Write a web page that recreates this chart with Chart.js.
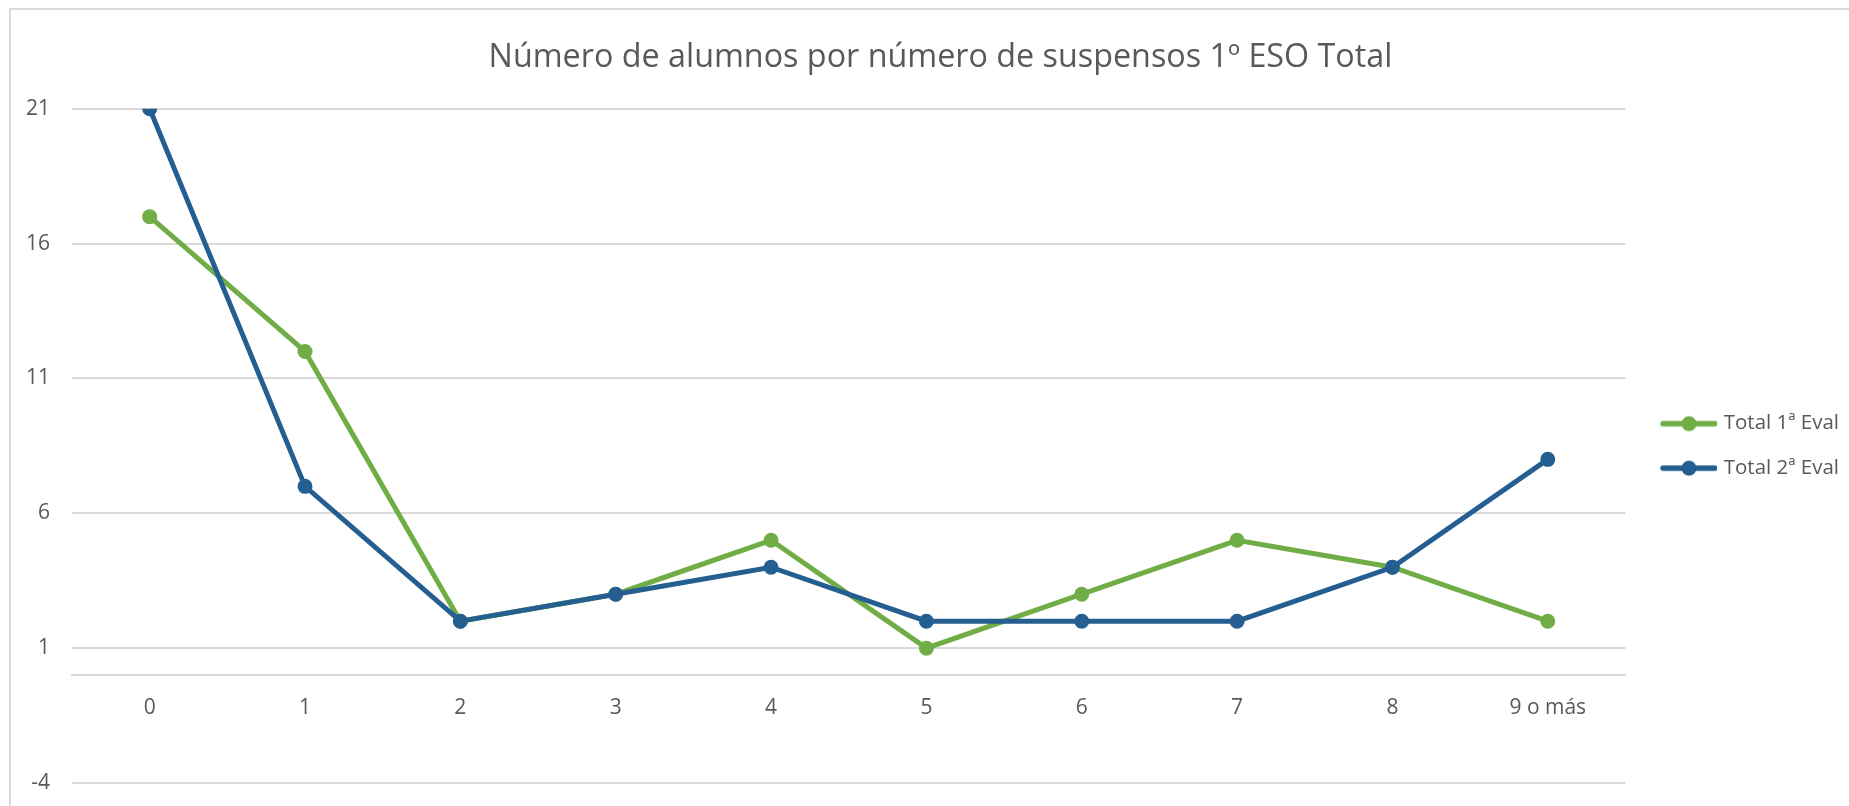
<!DOCTYPE html>
<html>
<head>
<meta charset="utf-8">
<script src="https://cdn.jsdelivr.net/npm/chart.js"></script>
<style>
  body { margin: 0; background: #fff; overflow: hidden; }
  #frame { position: absolute; left: 9px; top: 8px; width: 1900px; height: 900px; border: 2px solid #d9d9d9; }
  #chart { position: absolute; left: 0; top: 0; }
</style>
</head>
<body>
<div id="frame"></div>
<canvas id="chart" width="1849" height="806"></canvas>
<script>
// data //
const categories = ['0', '1', '2', '3', '4', '5', '6', '7', '8', '9 o más'];
const total1Eval = [17, 12, 2, 3, 5, 1, 3, 5, 4, 2];
const total2Eval = [21, 7, 2, 3, 4, 2, 2, 2, 4, 8];
const yTicks = [-4, 1, 6, 11, 16, 21];

const green = '#70ad47';
const blue = '#255e91';
const grey = '#595959';
const gridGrey = '#d9d9d9';
const fontName = "'Open Sans', 'Noto Sans', sans-serif";

// legend symbol: line with a dot in the middle
function legendSymbol(color) {
  const c = document.createElement('canvas');
  c.width = 58;
  c.height = 18;
  const ctx = c.getContext('2d');
  ctx.strokeStyle = color;
  ctx.lineWidth = 5.5;
  ctx.lineCap = 'round';
  ctx.beginPath();
  ctx.moveTo(4, 9);
  ctx.lineTo(56, 9);
  ctx.stroke();
  ctx.fillStyle = color;
  ctx.beginPath();
  ctx.arc(30, 9, 7.5, 0, Math.PI * 2);
  ctx.fill();
  return c;
}
const symbols = [legendSymbol(green), legendSymbol(blue)];

// legend centred on the plot area, title centred on the (wider) chart frame
const layoutTweaks = {
  id: 'layoutTweaks',
  afterLayout(chart) {
    const lg = chart.legend;
    lg.top = chart.chartArea.top;
    lg.bottom = chart.chartArea.bottom;
    lg.height = lg.bottom - lg.top;
    const t = chart.titleBlock;
    t.left += 11;
    t.right += 11;
  }
};

new Chart('chart', {
  type: 'line',
  data: {
    labels: categories,
    datasets: [{
      label: 'Total 1ª Eval',
      data: total1Eval,
      borderColor: green,
      backgroundColor: green,
      pointBackgroundColor: green,
      pointBorderColor: green,
      borderWidth: 5,
      pointRadius: 6,
      pointBorderWidth: 3,
      order: 1
    }, {
      label: 'Total 2ª Eval',
      data: total2Eval,
      borderColor: blue,
      backgroundColor: blue,
      pointBackgroundColor: blue,
      pointBorderColor: blue,
      borderWidth: 5,
      pointRadius: 6,
      pointBorderWidth: 3,
      order: 0
    }]
  },
  options: {
    responsive: false,
    animation: false,
    layout: { padding: { left: 10, right: 0, top: 0, bottom: 23 } },
    plugins: {
      title: {
        display: true,
        text: 'Número de alumnos por número de suspensos 1º ESO Total',
        color: grey,
        font: { family: fontName, size: 32.3, weight: 'normal' },
        padding: { top: 38, bottom: 32 }
      },
      legend: {
        position: 'right',
        labels: {
          color: grey,
          font: { family: fontName, size: 20.5 },
          usePointStyle: true,
          pointStyleWidth: 51,
          boxHeight: 18,
          padding: 24,
          sort: (a, b) => a.datasetIndex - b.datasetIndex,
          generateLabels: (chart) => {
            const items = Chart.defaults.plugins.legend.labels.generateLabels(chart);
            items.forEach(it => { it.pointStyle = symbols[it.datasetIndex]; });
            return items;
          }
        }
      },
      tooltip: { enabled: false }
    },
    scales: {
      x: {
        type: 'category',
        offset: true,
        position: { y: 0 },
        grid: { display: false, drawTicks: false },
        border: { color: gridGrey, width: 2 },
        ticks: { color: grey, font: { family: fontName, size: 21 }, padding: 20, maxRotation: 0 }
      },
      y: {
        min: -4,
        max: 21,
        afterBuildTicks: (scale) => { scale.ticks = yTicks.map(v => ({ value: v })); },
        afterFit: (scale) => {
          scale.width = 62;
          scale.paddingTop = 12;
          scale.paddingBottom = 12;
        },
        grid: { color: gridGrey, lineWidth: 2, drawTicks: false },
        border: { display: false },
        ticks: { color: grey, font: { family: fontName, size: 21 }, padding: 22 }
      },
      gap: {
        position: 'right',
        display: true,
        afterFit: (scale) => { scale.width = 13; },
        grid: { display: false, drawTicks: false },
        border: { display: false },
        ticks: { display: false }
      }
    }
  },
  plugins: [layoutTweaks]
});
</script>
</body>
</html>
